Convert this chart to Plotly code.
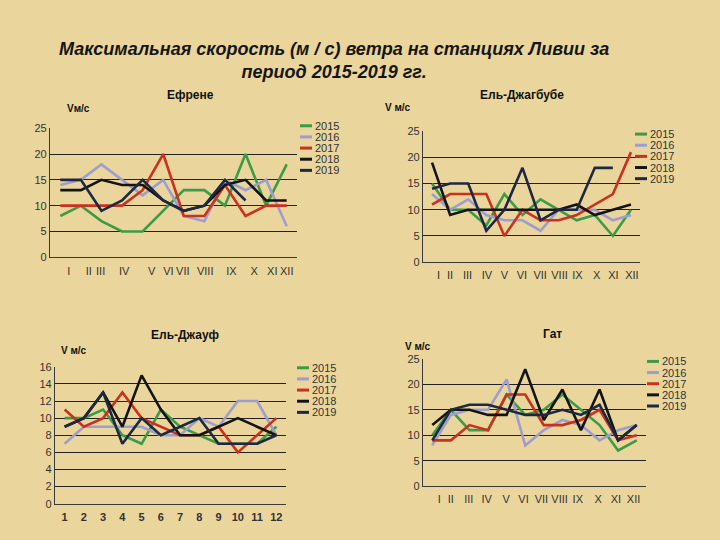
import plotly.graph_objects as go

# ---------------- data ----------------
months = list(range(1, 13))
roman_labels = ["I", "II", "III", "IV", "V", "VI", "VII", "VIII", "IX", "X", "XI", "XII"]
number_labels = ["<b>1</b>", "<b>2</b>", "<b>3</b>", "<b>4</b>", "<b>5</b>", "<b>6</b>",
                 "<b>7</b>", "<b>8</b>", "<b>9</b>", "<b>10</b>", "<b>11</b>", "<b>12</b>"]
years = ["2015", "2016", "2017", "2018", "2019"]

# Ефрене
efrene_2015 = [8, 10, 7, 5, 5, 9, 13, 13, 10, 20, 10, 18]
efrene_2016 = [14, 15, 18, 15, 12, 15, 8, 7, 15, 13, 15, 6]
efrene_2017 = [10, 10, 10, 10, 13, 20, 8, 8, 14, 8, 10, 10]
efrene_2018 = [13, 13, 15, 14, 14, 11, 9, 10, 14, 15, 11, 11]
efrene_2019 = [15, 15, 9, 11, 15, 11, 9, 10, 15, 11, None, None]

# Ель-Джагбубе
jagbub_2015 = [15, 10, 10, 7, 13, 9, 12, 10, 8, 9, 5, 10]
jagbub_2016 = [13, 10, 12, 9, 8, 8, 6, 10, 10, 10, 8, 9]
jagbub_2017 = [11, 13, 13, 13, 5, 10, 8, 8, 9, 11, 13, 21]
jagbub_2018 = [19, 9, 10, 10, 10, 10, 10, 10, 11, 9, 10, 11]
jagbub_2019 = [14, 15, 15, 6, 10, 18, 8, 10, 10, 18, 18, None]

# Ель-Джауф
jauf_2015 = [10, 10, 11, 8, 7, 11, 9, 8, 7, 7, 7, 9]
jauf_2016 = [7, 9, 9, 9, 9, 8, 8, 10, 9, 12, 12, 8]
jauf_2017 = [11, 9, 10, 13, 10, 9, 8, 8, 9, 6, 8, 10]
jauf_2018 = [9, 10, 13, 9, 15, 11, 8, 8, 9, 10, 9, 8]
jauf_2019 = [9, 10, 13, 7, 10, 8, 9, 10, 7, 7, 7, 8]

# Гат
gat_2015 = [10, 15, 11, 11, 18, 14, 15, 18, 15, 12, 7, 9]
gat_2016 = [8, 14, 15, 15, 21, 8, 11, 13, 12, 9, 11, 12]
gat_2017 = [9, 9, 12, 11, 18, 18, 12, 12, 13, 15, 9, 10]
gat_2018 = [12, 15, 15, 14, 14, 23, 13, 19, 11, 19, 9, 12]
gat_2019 = [9, 15, 16, 16, 15, 14, 14, 15, 14, 16, 9, 12]

station_names = ["Ефрене", "Ель-Джагбубе", "Ель-Джауф", "Гат"]
y_labels = ["Vм/с", "V м/с", "V м/с", "V м/с"]

# ---------------- style ----------------
W, H = 720, 540
BG = "#ead69c"
colors = ["#3d9a45", "#9d9dcf", "#c9321f", "#141414", "#1d2942"]
FONT = "Liberation Sans, Arial, sans-serif"

def px_x(x):
    return x / W

def px_y(y):
    return 1 - y / H

stations = [
    dict(series=[efrene_2015, efrene_2016, efrene_2017, efrene_2018, efrene_2019],
         box=(50, 125, 297, 257), yr=25, dt=5, labels=roman_labels,
         tickpos=[1.41, 2.38, 2.96, 4.10, 5.44, 6.25, 6.95, 8.04, 9.31, 10.42, 11.30, 12.0],
         title=(190, 91), ylab=(65, 105), leg=(300, 122.5, 11.4)),
    dict(series=[jagbub_2015, jagbub_2016, jagbub_2017, jagbub_2018, jagbub_2019],
         box=(423, 128, 640, 262), yr=25, dt=5, labels=roman_labels,
         tickpos=[1.36, 2.0, 2.96, 4.03, 5.0, 5.97, 6.98, 8.05, 9.04, 10.1, 11.03, 12.05],
         title=(522, 91), ylab=(383, 104), leg=(635, 131, 11.4)),
    dict(series=[jauf_2015, jauf_2016, jauf_2017, jauf_2018, jauf_2019],
         box=(55, 369, 286, 509), yr=16, dt=2, labels=number_labels,
         tickpos=months,
         title=(185, 336), ylab=(59, 352), leg=(297, 370, 11.4)),
    dict(series=[gat_2015, gat_2016, gat_2017, gat_2018, gat_2019],
         box=(423, 361, 646, 491), yr=25, dt=5, labels=roman_labels,
         tickpos=[1.37, 2.0, 2.96, 3.93, 4.97, 5.91, 6.87, 7.85, 8.83, 9.92, 10.88, 11.83],
         title=(552, 335), ylab=(403, 348), leg=(647, 363.5, 11.4)),
]

fig = go.Figure()
annotations = []
shapes = []

for i, st in enumerate(stations):
    n = "" if i == 0 else str(i + 1)
    xa, ya = "x" + n, "y" + n
    for yi, (vals, col) in enumerate(zip(st["series"], colors)):
        fig.add_trace(go.Scatter(
            x=months, y=vals, mode="lines", name=years[yi],
            line=dict(color=col, width=2.6), connectgaps=False,
            xaxis=xa, yaxis=ya, showlegend=False, hoverinfo="x+y+name"))
    x0, y0, x1, y1 = st["box"]
    fig.update_layout(**{
        "xaxis" + n: dict(domain=[px_x(x0), px_x(x1)], anchor=ya, range=[0.5, 12.5],
                          tickmode="array", tickvals=st["tickpos"], ticktext=st["labels"],
                          showgrid=False, zeroline=False, showline=True,
                          linecolor="#3a3a3a", linewidth=1.2, ticks="",
                          ticklabelstandoff=3,
                          tickfont=dict(family=FONT, size=11, color="#333333"),
                          fixedrange=True),
        "yaxis" + n: dict(domain=[px_y(y1), px_y(y0)], anchor=xa, range=[0, st["yr"]],
                          dtick=st["dt"], tick0=0, showgrid=True, gridcolor="#222222",
                          gridwidth=1.3, zeroline=False, showline=True,
                          linecolor="#3a3a3a", linewidth=1.2, ticks="",
                          tickfont=dict(family=FONT, size=11, color="#333333"),
                          fixedrange=True),
    })
    # panel title
    tx, ty = st["title"]
    annotations.append(dict(text="<b>" + station_names[i] + "</b>", x=px_x(tx), y=px_y(ty),
                            xref="paper", yref="paper", showarrow=False,
                            xanchor="center", yanchor="middle",
                            font=dict(family=FONT, size=12, color="#111111")))
    # y unit label
    lx, ly = st["ylab"]
    annotations.append(dict(text="<b>" + y_labels[i] + "</b>", x=px_x(lx), y=px_y(ly),
                            xref="paper", yref="paper", showarrow=False,
                            xanchor="left", yanchor="middle",
                            font=dict(family=FONT, size=10, color="#111111")))
    # legend
    gx, gy, gstep = st["leg"]
    for k, (yr_name, col) in enumerate(zip(years, colors)):
        yy = gy + k * gstep
        shapes.append(dict(type="line", xref="paper", yref="paper",
                           x0=px_x(gx), x1=px_x(gx + 12), y0=px_y(yy), y1=px_y(yy),
                           line=dict(color=col, width=3)))
        annotations.append(dict(text=yr_name, x=px_x(gx + 13), y=px_y(yy),
                                xref="paper", yref="paper", showarrow=False,
                                xanchor="left", yanchor="middle",
                                font=dict(family=FONT, size=11, color="#333333")))

# main title
annotations.append(dict(
    text="<b><i>Максимальная скорость (м / с) ветра на станциях Ливии за</i></b><br>"
         "<b><i>период 2015-2019 гг.</i></b>",
    x=px_x(334), y=px_y(56), xref="paper", yref="paper", showarrow=False,
    xanchor="center", yanchor="middle", align="center",
    font=dict(family="Liberation Sans Narrow, Arial Narrow, Liberation Sans, Arial", size=18,
              color="#151515")))

fig.update_layout(
    width=W, height=H, margin=dict(l=0, r=0, t=0, b=0),
    paper_bgcolor=BG, plot_bgcolor=BG,
    annotations=annotations, shapes=shapes, showlegend=False,
)

fig.write_html("out.html")
